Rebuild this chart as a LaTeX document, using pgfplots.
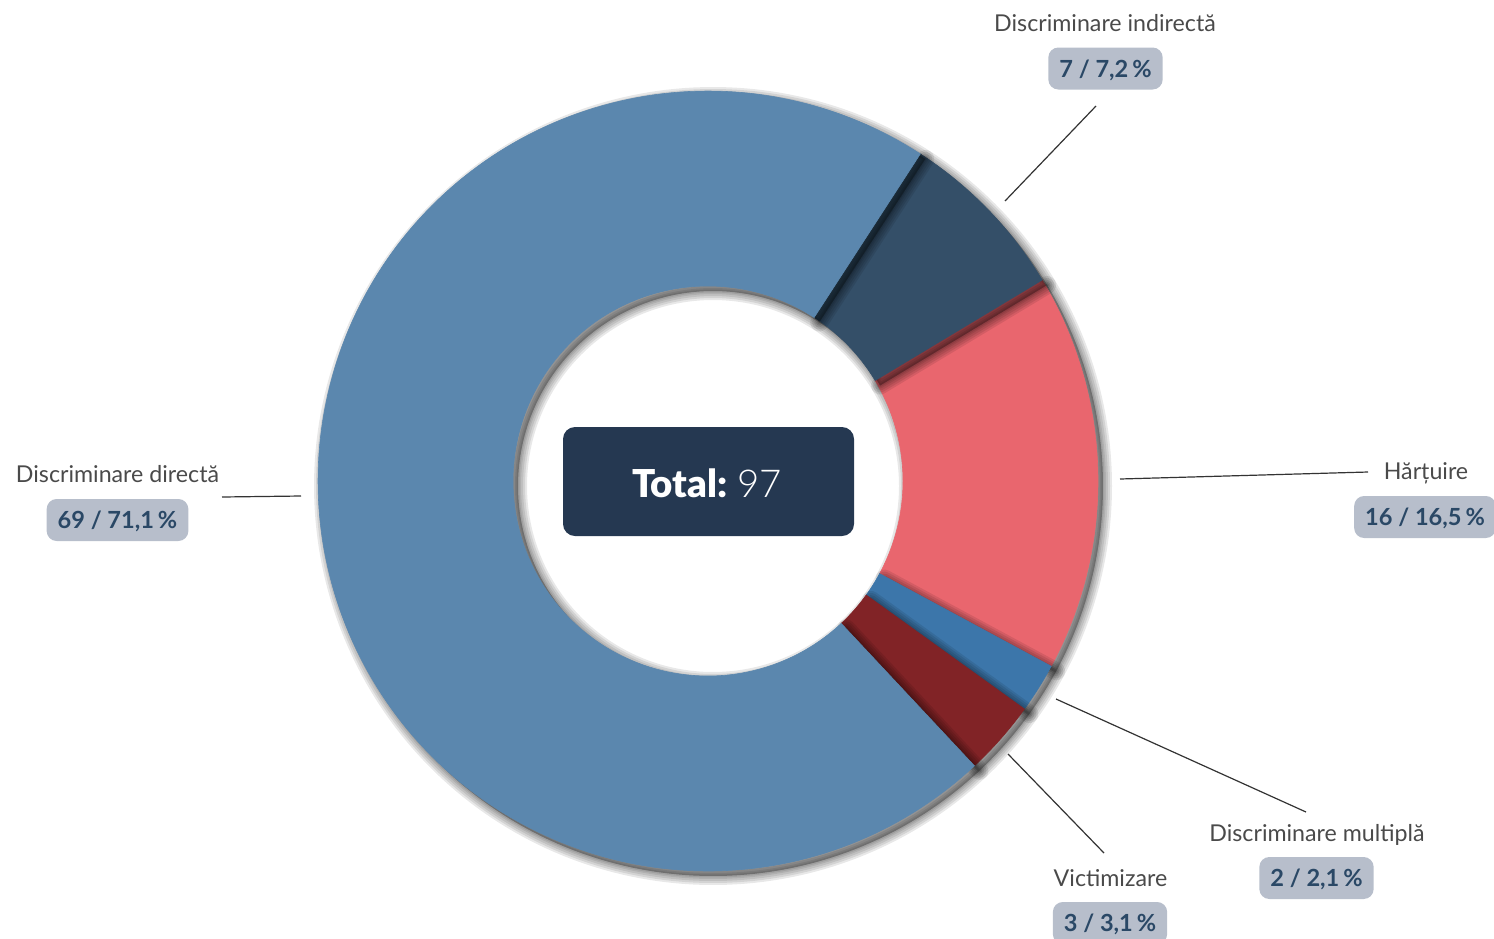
\documentclass[border=0pt]{standalone}
\usepackage{fontspec}
\setmainfont{Lato}
\newfontfamily\latolight{Lato Light}
\newfontfamily\latoblack{Lato Black}
\usepackage{pgfplots}
\usepackage{pgfplotstable}
\pgfplotsset{compat=1.18}

\definecolor{cDir}{HTML}{5B87AE}
\definecolor{cInd}{HTML}{344F68}
\definecolor{cHar}{HTML}{E9666E}
\definecolor{cMul}{HTML}{3C76AA}
\definecolor{cVic}{HTML}{812326}
\definecolor{cTot}{HTML}{253851}
\definecolor{cBox}{HTML}{B7BECB}
\definecolor{cVal}{HTML}{2A4866}
\definecolor{cLab}{HTML}{4A4A4A}
\definecolor{cLine}{HTML}{333333}

% slices in clockwise order, starting 33 deg clockwise from the top
\pgfplotstableread{
label count
indirecta 7
hartuire 16
multipla 2
victimizare 3
directa 69
}\slicedata

\def\cx{708}\def\cy{481}\def\Ro{390}\def\Ri{195}

% #1 start angle, #2 end angle, #3 dx, #4 dy, #5 options
\newcommand\ringpath[5]{%
\addplot[mark=none,#5, samples at={0,1,...,200,1000,1001,...,1200}, variable=\t]
 ({\cx+#3+((\t<500)?\Ro:\Ri)*cos((\t<500)?(#1+(#2-#1)*\t/200):(#2+(#1-#2)*(\t-1000)/200))},
  {\cy+#4-((\t<500)?\Ro:\Ri)*sin((\t<500)?(#1+(#2-#1)*\t/200):(#2+(#1-#2)*(\t-1000)/200))}) -- cycle;
}
\tikzset{shl/.style={draw=black, fill=black, draw opacity=0.09, fill opacity=0.07, line width=#1, line join=round}}
\newcommand\shadowed[3]{%
 \ringpath{#1}{#2}{5}{5}{shl=9pt}
 \ringpath{#1}{#2}{5}{5}{shl=7pt}
 \ringpath{#1}{#2}{5}{5}{shl=5pt}
 \ringpath{#1}{#2}{5}{5}{shl=3pt}
 \ringpath{#1}{#2}{5}{5}{shl=1.5pt}
 \ringpath{#1}{#2}{0}{0}{draw=#3, line width=0.3pt, fill=#3}
}

\tikzset{
 lab/.style={anchor=base, text=cLab, font=\fontsize{11.6}{13}\selectfont, inner sep=0pt},
 valbox/.style={fill=cBox, rounded corners=5pt, text=cVal, font=\bfseries\fontsize{11.8}{14}\selectfont,
   inner xsep=5.5pt, inner ysep=0pt, minimum height=21pt, text height=8.5pt, text depth=0pt},
 conn/.style={draw=cLine, line width=0.6pt}
}

\begin{document}
\pgfplotstablegetelem{0}{count}\of\slicedata\edef\nA{\pgfplotsretval}%
\pgfplotstablegetelem{1}{count}\of\slicedata\edef\nB{\pgfplotsretval}%
\pgfplotstablegetelem{2}{count}\of\slicedata\edef\nC{\pgfplotsretval}%
\pgfplotstablegetelem{3}{count}\of\slicedata\edef\nD{\pgfplotsretval}%
\pgfplotstablegetelem{4}{count}\of\slicedata\edef\nE{\pgfplotsretval}%
\pgfmathsetmacro\tot{\nA+\nB+\nC+\nD+\nE}%
\pgfmathsetmacro\aA{90-33}%
\pgfmathsetmacro\aB{\aA-(\nA/\tot)*360}%
\pgfmathsetmacro\aC{\aB-(\nB/\tot)*360}%
\pgfmathsetmacro\aD{\aC-(\nC/\tot)*360}%
\pgfmathsetmacro\aE{\aD-(\nD/\tot)*360}%
\pgfmathsetmacro\aF{\aE-(\nE/\tot)*360}%
\begin{tikzpicture}
\path[use as bounding box] (0,0) rectangle (747pt,469pt);
\begin{axis}[anchor=center, at={(373.5pt,234.5pt)}, scale only axis,
  width=747pt, height=469pt, xmin=0, xmax=1494, ymin=0, ymax=938,
  y dir=reverse, hide axis, clip=false]
 \shadowed{\aB}{\aC}{cHar}
 \shadowed{\aC}{\aD}{cMul}
 \shadowed{\aD}{\aE}{cVic}
 \shadowed{\aA}{\aB}{cInd}
 \shadowed{\aE}{\aF}{cDir}

 % centre box
 \fill[cTot, rounded corners=6pt] (axis cs:563,427) rectangle (axis cs:854,536);
 \node[anchor=base, text=white, inner sep=0pt] at (axis cs:707,497)
   {\fontsize{19.2}{22}\selectfont{\latoblack Total:}\ {\latolight 97}};

 % connectors
 \draw[conn] (axis cs:1005,201) -- (axis cs:1096,106);
 \draw[conn] (axis cs:301,496) -- (axis cs:222,497);
 \draw[conn] (axis cs:1120,479) -- (axis cs:1368,472);
 \draw[conn] (axis cs:1056,699) -- (axis cs:1306,812);
 \draw[conn] (axis cs:1008,754) -- (axis cs:1104,853);

 % labels
 \node[lab] at (axis cs:1105,31) {Discriminare indirectă};
 \node[valbox] at (axis cs:1105.5,68.5) {7 / 7,2\,\%};
 \node[lab] at (axis cs:117.5,482) {Discriminare directă};
 \node[valbox] at (axis cs:117.5,520) {69 / 71,1\,\%};
 \node[lab] at (axis cs:1426,479) {Hărțuire};
 \node[valbox] at (axis cs:1425,517) {16 / 16,5\,\%};
 \node[lab] at (axis cs:1317,841) {Discriminare multiplă};
 \node[valbox] at (axis cs:1316.5,878) {2 / 2,1\,\%};
 \node[lab] at (axis cs:1110.5,886) {Victimizare};
 \node[valbox] at (axis cs:1110,923) {3 / 3,1\,\%};
\end{axis}
\end{tikzpicture}
\end{document}
